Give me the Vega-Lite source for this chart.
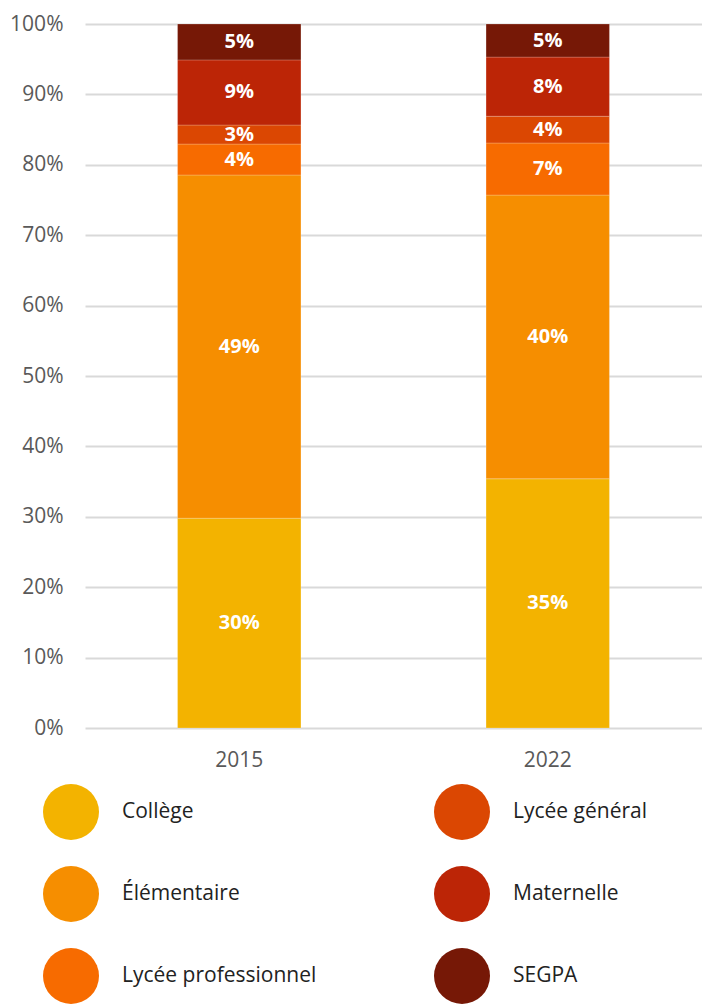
{
  "$schema": "https://vega.github.io/schema/vega-lite/v6.json",
  "width": 617,
  "height": 704,
  "autosize": "none",
  "padding": {"left": 85, "top": 24, "right": 0, "bottom": 278},
  "background": "white",
  "config": {
    "view": {"stroke": null},
    "font": "Open Sans",
    "axis": {"labelFont": "Open Sans", "labelColor": "#595959", "labelFontSize": 21},
    "legend": {"labelFont": "Open Sans"}
  },
  "data": {
    "values": [
      {"annee": "2015", "niveau": "Collège", "part": 0.298, "rang": 1},
      {"annee": "2015", "niveau": "Élémentaire", "part": 0.4875, "rang": 2},
      {"annee": "2015", "niveau": "Lycée professionnel", "part": 0.044, "rang": 3},
      {"annee": "2015", "niveau": "Lycée général", "part": 0.027, "rang": 4},
      {"annee": "2015", "niveau": "Maternelle", "part": 0.0925, "rang": 5},
      {"annee": "2015", "niveau": "SEGPA", "part": 0.051, "rang": 6},
      {"annee": "2022", "niveau": "Collège", "part": 0.354, "rang": 1},
      {"annee": "2022", "niveau": "Élémentaire", "part": 0.403, "rang": 2},
      {"annee": "2022", "niveau": "Lycée professionnel", "part": 0.074, "rang": 3},
      {"annee": "2022", "niveau": "Lycée général", "part": 0.038, "rang": 4},
      {"annee": "2022", "niveau": "Maternelle", "part": 0.084, "rang": 5},
      {"annee": "2022", "niveau": "SEGPA", "part": 0.047, "rang": 6}
    ]
  },
  "encoding": {
    "x": {
      "field": "annee",
      "type": "nominal",
      "scale": {"paddingInner": 0.6, "paddingOuter": 0.3},
      "axis": {"title": null, "labelAngle": 0, "domain": false, "ticks": false, "labelPadding": 21}
    },
    "y": {
      "field": "part",
      "type": "quantitative",
      "stack": "zero",
      "scale": {"domain": [0, 1], "nice": false},
      "axis": {
        "title": null,
        "format": ".0%",
        "values": [0, 0.1, 0.2, 0.3, 0.4, 0.5, 0.6, 0.7, 0.8, 0.9, 1],
        "domain": false,
        "ticks": false,
        "grid": true,
        "gridColor": "#d9d9d9",
        "gridWidth": 2,
        "labelPadding": 22
      }
    },
    "order": {"field": "rang", "type": "quantitative", "sort": "ascending"}
  },
  "layer": [
    {
      "mark": {"type": "bar", "stroke": "white", "strokeWidth": 0.6, "strokeOpacity": 0.35},
      "encoding": {
        "color": {
          "field": "niveau",
          "type": "nominal",
          "scale": {
            "domain": ["Collège", "Élémentaire", "Lycée professionnel", "Lycée général", "Maternelle", "SEGPA"],
            "range": ["#F3B300", "#F68E00", "#F76B00", "#DB4702", "#BC2506", "#761806"]
          },
          "legend": {
            "title": null,
            "orient": "none",
            "legendX": -42,
            "legendY": 760,
            "columns": 2,
            "columnPadding": 117,
            "rowPadding": 26,
            "padding": 0,
            "symbolType": "circle",
            "symbolSize": 3136,
            "symbolStrokeWidth": 0,
            "symbolOpacity": 1,
            "labelFontSize": 21,
            "labelColor": "#222222",
            "labelOffset": 23,
            "labelLimit": 400
          }
        }
      }
    },
    {
      "mark": {"type": "text", "color": "white", "fontWeight": "bold", "fontSize": 20, "baseline": "middle"},
      "encoding": {
        "y": {"field": "part", "type": "quantitative", "stack": "zero", "bandPosition": 0.5},
        "text": {"field": "part", "type": "quantitative", "format": ".0%"}
      }
    }
  ]
}
